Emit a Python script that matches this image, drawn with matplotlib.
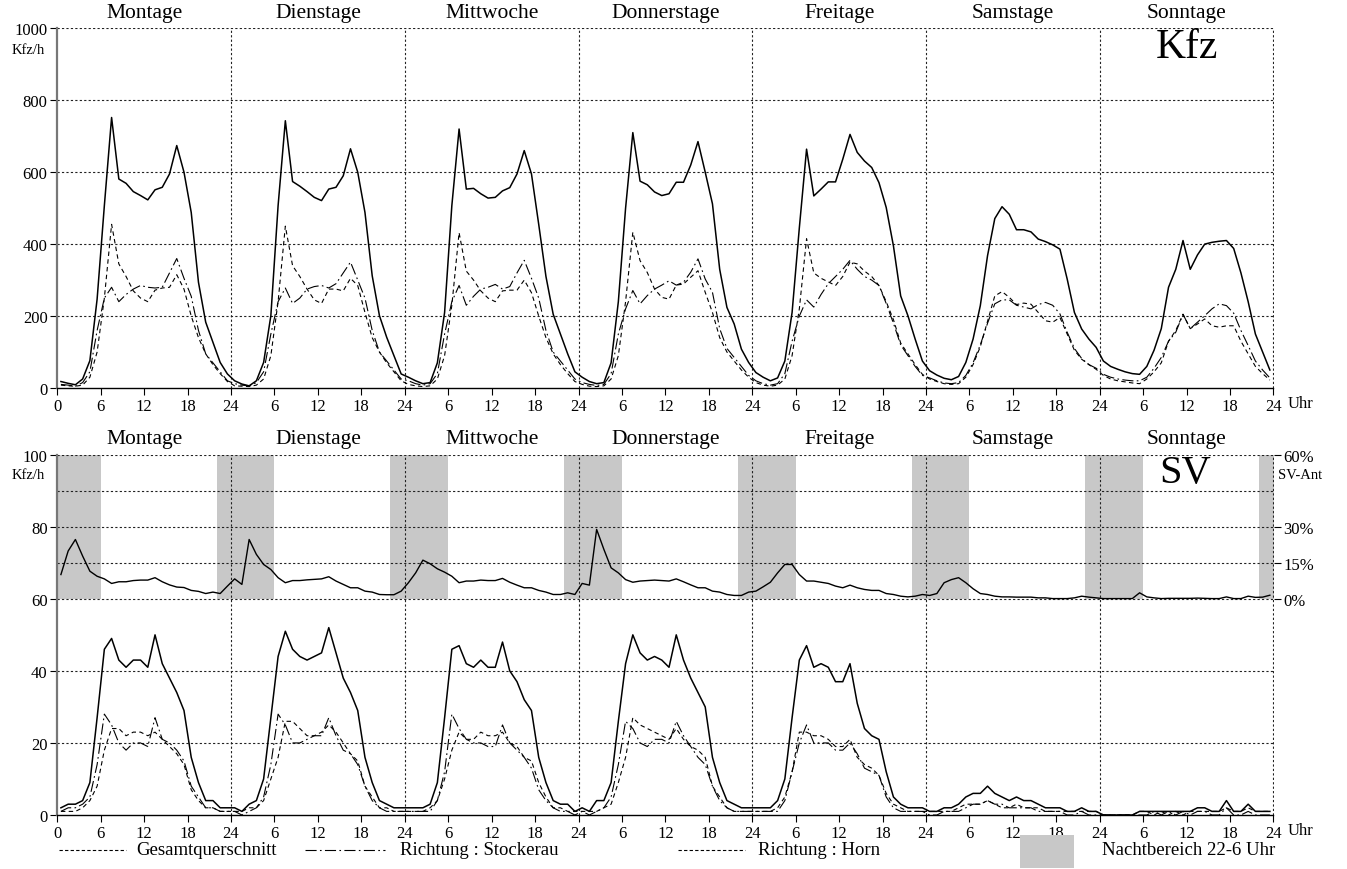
import numpy as np
import matplotlib
matplotlib.use("Agg")
import matplotlib.pyplot as plt
from matplotlib.patches import Rectangle
from matplotlib.lines import Line2D

plt.rcParams['font.family'] = ['Liberation Serif', 'DejaVu Serif']

days = ["Montage", "Dienstage", "Mittwoche", "Donnerstage", "Freitage", "Samstage", "Sonntage"]

# Kfz/h, one value per hour (Mo .. So, 24 values each)
kfz_total = [
    18, 13, 9, 25, 76, 247, 507, 752, 581, 569, 546, 535, 523, 551, 558, 595, 674, 600, 488, 294, 183, 127, 71, 39,
    20, 11, 6, 20, 71, 201, 507, 743, 574, 561, 546, 530, 521, 553, 558, 590, 665, 600, 488, 312, 201, 141, 90, 39,
    30, 20, 12, 15, 70, 210, 507, 720, 553, 555, 540, 528, 530, 548, 557, 595, 660, 595, 455, 310, 205, 150, 95, 45,
    30, 18, 12, 15, 70, 240, 500, 710, 575, 565, 545, 535, 540, 572, 572, 620, 685, 600, 512, 330, 224, 178, 108, 71,
    43, 30, 20, 28, 75, 210, 445, 664, 534, 553, 573, 573, 636, 705, 655, 631, 613, 571, 502, 395, 256, 201, 136, 75,
    48, 36, 27, 23, 32, 71, 136, 229, 368, 471, 504, 483, 440, 440, 434, 414, 407, 398, 386, 303, 210, 164, 136, 113,
    75, 60, 52, 45, 40, 38, 60, 105, 165, 280, 330, 410, 330, 370, 400, 405, 408, 410, 388, 320, 240, 150, 100, 50,
]
kfz_stockerau = [
    10, 8, 5, 15, 45, 160, 250, 280, 240, 260, 275, 285, 280, 278, 280, 320, 360, 305, 255, 160, 95, 70, 45, 20,
    12, 8, 6, 15, 45, 150, 240, 278, 235, 250, 275, 282, 285, 278, 290, 320, 350, 300, 250, 160, 100, 75, 50, 25,
    20, 12, 8, 12, 40, 150, 240, 285, 230, 255, 275, 280, 288, 275, 282, 320, 355, 305, 250, 160, 100, 75, 50, 25,
    15, 10, 7, 10, 40, 150, 220, 271, 234, 257, 275, 286, 298, 286, 294, 322, 359, 303, 266, 165, 110, 85, 60, 35,
    20, 12, 8, 12, 40, 130, 200, 245, 225, 260, 290, 310, 330, 355, 330, 310, 300, 285, 235, 180, 120, 90, 60, 35,
    28, 20, 14, 12, 15, 35, 70, 120, 180, 234, 245, 245, 230, 225, 220, 232, 238, 230, 206, 155, 110, 82, 65, 55,
    38, 30, 25, 22, 20, 20, 30, 55, 85, 130, 155, 205, 165, 183, 201, 220, 234, 229, 208, 160, 118, 75, 50, 28,
]
kfz_horn = [
    8, 6, 5, 8, 30, 100, 250, 455, 345, 310, 270, 250, 240, 272, 278, 280, 315, 275, 200, 140, 95, 65, 40, 18,
    6, 5, 4, 8, 25, 90, 240, 450, 340, 310, 275, 245, 235, 275, 275, 270, 305, 285, 210, 140, 100, 70, 45, 20,
    10, 6, 4, 6, 25, 90, 230, 432, 325, 300, 270, 250, 240, 270, 272, 272, 300, 265, 200, 140, 95, 65, 40, 18,
    10, 5, 4, 6, 25, 90, 240, 433, 354, 321, 275, 252, 247, 286, 289, 308, 326, 266, 210, 140, 100, 75, 50, 30,
    15, 8, 5, 8, 25, 90, 220, 415, 320, 305, 295, 285, 310, 350, 345, 325, 310, 285, 240, 190, 125, 95, 65, 38,
    25, 18, 12, 10, 12, 30, 65, 115, 185, 256, 268, 252, 232, 236, 233, 210, 187, 183, 196, 150, 105, 80, 65, 52,
    35, 25, 20, 17, 14, 12, 25, 45, 70, 130, 160, 205, 165, 178, 192, 173, 169, 173, 173, 130, 95, 60, 40, 22,
]

# Schwerverkehr (SV) Kfz/h
sv_total = [
    2, 3, 3, 4, 9, 27, 46, 49, 43, 41, 43, 43, 41, 50, 42, 38, 34, 29, 16, 9, 4, 4, 2, 2,
    2, 1, 3, 4, 10, 27, 44, 51, 46, 44, 43, 44, 45, 52, 45, 38, 34, 29, 16, 9, 4, 3, 2, 2,
    2, 2, 2, 3, 9, 27, 46, 47, 42, 41, 43, 41, 41, 48, 40, 37, 32, 29, 16, 9, 4, 3, 3, 1,
    2, 1, 4, 4, 9, 26, 42, 50, 45, 43, 44, 43, 41, 50, 43, 38, 34, 30, 16, 9, 4, 3, 2, 2,
    2, 2, 2, 4, 10, 27, 43, 47, 41, 42, 41, 37, 37, 42, 31, 24, 22, 21, 12, 5, 3, 2, 2, 2,
    1, 1, 2, 2, 3, 5, 6, 6, 8, 6, 5, 4, 5, 4, 4, 3, 2, 2, 2, 1, 1, 2, 1, 1,
    0, 0, 0, 0, 0, 1, 1, 1, 1, 1, 1, 1, 1, 2, 2, 1, 1, 4, 1, 1, 3, 1, 1, 1,
]
sv_stockerau = [
    1, 2, 2, 3, 5, 14, 28, 25, 20, 18, 20, 20, 19, 27, 21, 20, 18, 15, 8, 5, 2, 2, 1, 1,
    1, 0, 1, 2, 5, 14, 28, 25, 20, 20, 21, 22, 22, 27, 22, 18, 17, 14, 8, 4, 2, 1, 1, 1,
    1, 1, 1, 1, 4, 12, 28, 24, 21, 20, 20, 19, 19, 25, 20, 18, 16, 13, 7, 4, 2, 1, 1, 0,
    1, 0, 1, 2, 5, 14, 26, 24, 20, 19, 21, 21, 20, 26, 22, 19, 16, 14, 8, 4, 2, 1, 1, 1,
    1, 1, 1, 1, 4, 12, 20, 25, 20, 20, 20, 18, 18, 20, 17, 13, 12, 11, 5, 2, 1, 1, 1, 1,
    0, 0, 1, 1, 1, 2, 3, 3, 4, 3, 3, 2, 2, 2, 2, 1, 1, 1, 1, 0, 0, 1, 0, 0,
    0, 0, 0, 0, 0, 0, 0, 1, 0, 1, 0, 1, 0, 1, 1, 0, 0, 2, 0, 0, 1, 0, 0, 0,
]
sv_horn = [
    1, 1, 1, 2, 4, 8, 18, 24, 24, 22, 23, 23, 22, 23, 21, 19, 17, 14, 7, 4, 2, 2, 1, 1,
    1, 1, 2, 2, 4, 10, 16, 26, 26, 24, 22, 22, 23, 25, 23, 20, 17, 15, 8, 5, 2, 2, 1, 1,
    1, 1, 1, 2, 4, 10, 18, 23, 21, 21, 23, 22, 22, 23, 20, 19, 16, 15, 9, 5, 2, 2, 1, 1,
    1, 1, 1, 2, 3, 9, 16, 27, 25, 24, 23, 22, 21, 24, 21, 19, 18, 16, 8, 5, 2, 1, 1, 1,
    1, 1, 1, 2, 5, 12, 23, 23, 22, 22, 21, 19, 19, 21, 16, 14, 13, 11, 6, 3, 2, 1, 1, 1,
    1, 1, 1, 1, 2, 3, 3, 3, 4, 3, 2, 2, 3, 2, 2, 2, 1, 1, 1, 1, 1, 1, 1, 1,
    0, 0, 0, 0, 0, 1, 1, 0, 1, 0, 1, 0, 1, 1, 1, 1, 1, 2, 1, 1, 2, 1, 1, 1,
]
# SV-Anteil in %
sv_share = [
    10.1, 19.9, 24.7, 17.8, 11.5, 9.4, 8.3, 6.4, 7.1, 7.1, 7.6, 7.8, 7.8, 8.8, 7.1, 5.8, 4.9, 4.7, 3.5, 3.1, 2.2, 2.8, 2.2, 5.3,
    8.3, 6.0, 24.7, 18.5, 14.3, 12.2, 8.8, 6.7, 7.6, 7.6, 7.9, 8.1, 8.3, 9.2, 7.4, 6.0, 4.6, 4.6, 3.2, 2.8, 1.8, 1.7, 1.7, 3.2,
    6.7, 10.8, 16.1, 14.6, 12.5, 11.1, 9.4, 6.7, 7.4, 7.4, 7.8, 7.6, 7.6, 8.5, 6.9, 5.7, 4.6, 4.6, 3.5, 2.8, 1.8, 1.8, 2.5, 1.8,
    6.4, 5.7, 28.9, 20.6, 12.9, 10.8, 8.0, 6.9, 7.4, 7.6, 7.8, 7.6, 7.4, 8.3, 7.1, 5.8, 4.6, 4.6, 3.2, 2.8, 1.8, 1.4, 1.4, 2.8,
    3.2, 5.0, 6.9, 10.8, 14.3, 14.3, 10.1, 7.4, 7.4, 6.9, 6.4, 5.3, 4.6, 5.7, 4.6, 3.9, 3.5, 3.5, 2.2, 1.8, 1.1, 0.8, 1.1, 1.8,
    1.4, 2.2, 6.7, 8.0, 8.8, 6.7, 4.2, 2.2, 1.8, 1.1, 0.8, 0.8, 0.7, 0.7, 0.7, 0.4, 0.4, 0.1, 0.1, 0.1, 0.4, 1.1, 0.7, 0.4,
    0.1, 0.1, 0.1, 0.1, 0.1, 2.5, 0.8, 0.4, 0.1, 0.2, 0.2, 0.2, 0.2, 0.3, 0.2, 0.1, 0.1, 0.8, 0.1, 0.1, 1.1, 0.6, 0.7, 1.5,
]

hours = np.arange(len(kfz_total)) + 0.5

solid_style = dict(color='black', lw=1.1, ls='-')
stock_style = dict(color='black', lw=0.8, ls=(0, (10, 3, 1.5, 3)))
horn_style = dict(color='black', lw=0.8, ls=(0, (4, 3)))
grid_style = dict(color='#222222', lw=0.8, ls=(0, (2, 2)), zorder=1)

W, H = 1347, 870
fig = plt.figure(figsize=(W / 100, H / 100), dpi=100)
ax_left, ax_right = 57.3, 1273.5


def make_axes(top_px, bot_px):
    ax = fig.add_axes([ax_left / W, 1 - bot_px / H, (ax_right - ax_left) / W, (bot_px - top_px) / H])
    ax.set_xlim(0, 168)
    for s in ['top', 'right']:
        ax.spines[s].set_visible(False)
    ax.spines['left'].set_color('#777777')
    ax.spines['left'].set_linewidth(1.6)
    ax.spines['bottom'].set_linewidth(1.0)
    xt = np.arange(0, 169, 6)
    ax.set_xticks(xt)
    ax.set_xticklabels(['0' if x == 0 else str(x % 24 or 24) for x in xt])
    ax.tick_params(direction='out', length=5, width=0.8, labelsize=12, pad=2)
    for v in range(24, 169, 24):
        ax.axvline(v, **grid_style)
    for i, d in enumerate(days):
        ax.annotate(d, (12 + 24 * i, 1.045), xycoords=('data', 'axes fraction'),
                    ha='center', va='center', fontsize=15.5)
    ax.annotate('Uhr', (1.0, 0), xycoords='axes fraction', xytext=(10.5, -11),
                textcoords='offset points', ha='left', va='center', fontsize=12)
    return ax


# --- Kfz ---
ax1 = make_axes(29.3, 389)
ax1.set_ylim(0, 1000)
ax1.set_yticks(range(0, 1001, 200))
for y in range(200, 1001, 200):
    ax1.axhline(y, **grid_style)
ax1.plot(hours, kfz_total, zorder=3, **solid_style)
ax1.plot(hours, kfz_stockerau, zorder=3, **stock_style)
ax1.plot(hours, kfz_horn, zorder=3, **horn_style)
ax1.text(28 / W, 1 - 50 / H, 'Kfz/h', transform=fig.transFigure, ha='center', va='center', fontsize=10.5)
ax1.text(1187 / W, 1 - 48 / H, 'Kfz', transform=fig.transFigure, ha='center', va='center', fontsize=30)

# --- SV ---
ax2 = make_axes(455.7, 816)
ax2.set_ylim(0, 100)
ax2.set_yticks(range(0, 101, 20))
for y in [20, 40, 60, 70, 80, 90, 100]:
    ax2.axhline(y, **grid_style)
# Nachtbereich 22-6 Uhr
for d in range(8):
    x0 = max(0, 24 * d - 2)
    x1 = min(168, 24 * d + 6)
    if x1 > x0:
        ax2.axvspan(x0, x1, ymin=0.6, ymax=1.0, color='#c8c8c8', lw=0, zorder=0)
ax2.plot(hours, sv_total, zorder=3, **solid_style)
ax2.plot(hours, sv_stockerau, zorder=3, **stock_style)
ax2.plot(hours, sv_horn, zorder=3, **horn_style)
ax2.plot(hours, 60 + np.array(sv_share) / 1.5, zorder=3, color='black', lw=1.0)
ax2.text(28 / W, 1 - 476 / H, 'Kfz/h', transform=fig.transFigure, ha='center', va='center', fontsize=10.5)
ax2.text(1185 / W, 1 - 474 / H, 'SV', transform=fig.transFigure, ha='center', va='center', fontsize=29)

axr = ax2.twinx()
axr.set_ylim(0, 100)
axr.set_yticks([60, 70, 80, 100])
axr.set_yticklabels(['0%', '15%', '30%', '60%'])
for s in ['top', 'left', 'right', 'bottom']:
    axr.spines[s].set_visible(False)
axr.tick_params(direction='out', length=5, width=0.8, labelsize=12, pad=2)
axr.text(1278 / W, 1 - 476 / H, 'SV-Ant', transform=fig.transFigure, ha='left', va='center', fontsize=10.5)

# --- Legende ---
ly = 1 - 851 / H
leg_items = [
    ((59, 126), dict(color='black', lw=0.8, ls=(0, (3, 2))), 136, 'Gesamtquerschnitt'),
    ((305, 385), stock_style, 400, 'Richtung : Stockerau'),
    ((678, 745), dict(color='black', lw=0.8, ls=(0, (3, 2))), 758, 'Richtung : Horn'),
]
for (xa, xb), st, tx, label in leg_items:
    fig.add_artist(Line2D([xa / W, xb / W], [ly, ly], transform=fig.transFigure, **st))
    fig.text(tx / W, ly, label, ha='left', va='center', fontsize=13.5)
fig.add_artist(Rectangle((1020 / W, 1 - 869 / H), 54 / W, 33 / H, transform=fig.transFigure,
                         color='#c8c8c8', lw=0))
fig.text(1102 / W, ly, 'Nachtbereich 22-6 Uhr', ha='left', va='center', fontsize=13.5)

fig.savefig('out.png', dpi=100)
